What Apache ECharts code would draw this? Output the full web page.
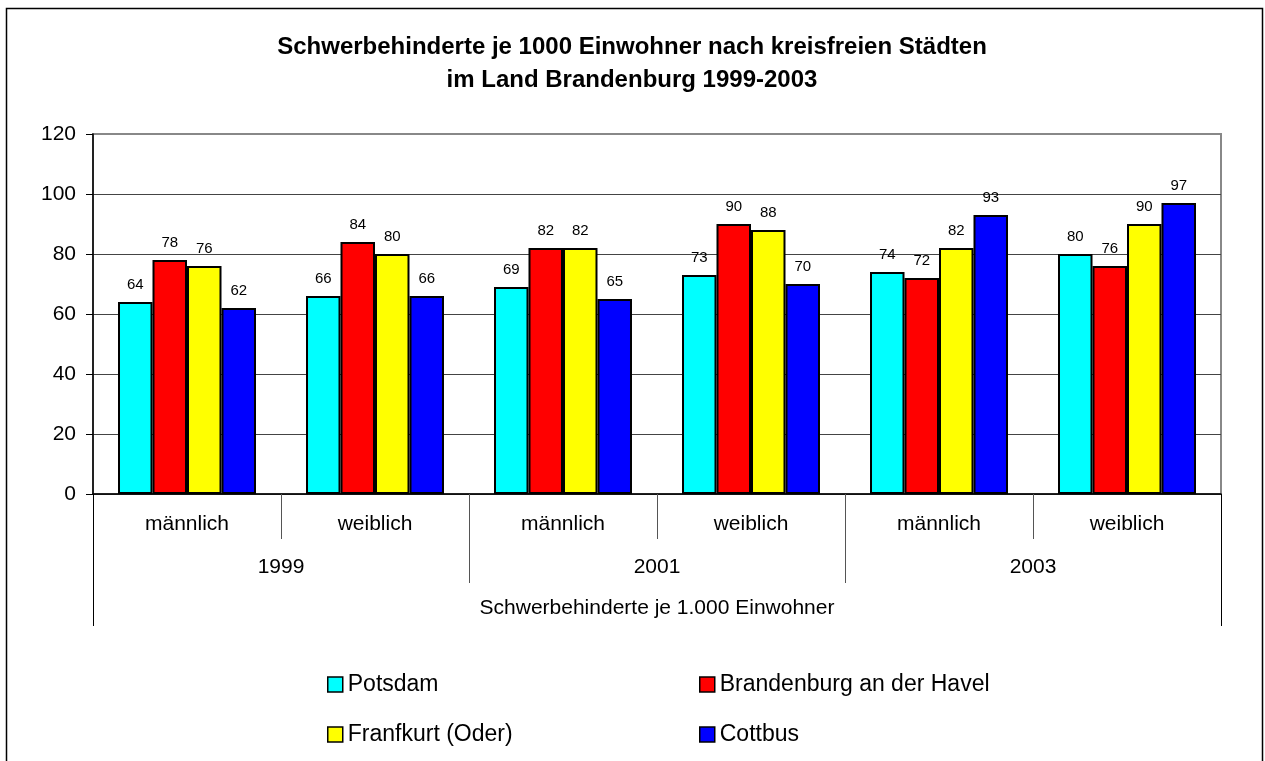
<!DOCTYPE html>
<html>
<head>
<meta charset="utf-8">
<title>Schwerbehinderte je 1000 Einwohner</title>
<script src="https://cdn.jsdelivr.net/npm/echarts@6/dist/echarts.min.js"></script>
<style>
  html, body { margin: 0; padding: 0; background: #fff; }
  #chart { width: 1265px; height: 761px; }
</style>
</head>
<body>
<div id="chart"></div>
<script>
// categories (three levels of the x axis)
const genders = ['männlich', 'weiblich', 'männlich', 'weiblich', 'männlich', 'weiblich'];
const years = ['1999', '2001', '2003'];
const groupLabel = ['Schwerbehinderte je 1.000 Einwohner'];

// values per city
const potsdam = [64, 66, 69, 73, 74, 80];
const brandenburg = [78, 84, 82, 90, 72, 76];
const frankfurt = [76, 80, 82, 88, 82, 90];
const cottbus = [62, 66, 65, 70, 93, 97];

const yTicks = { min: 0, max: 120, interval: 20 };

const font = "'Liberation Sans', Arial, sans-serif";

const chart = echarts.init(document.getElementById('chart'));

const makeBar = (name, color, data) => ({
  name: name,
  type: 'bar',
  xAxisIndex: 0,
  barGap: '0%',
  barCategoryGap: '26.6%',
  itemStyle: { color: color, borderColor: '#000', borderWidth: 2 },
  label: {
    show: true,
    position: 'top',
    distance: 10,
    color: '#000',
    fontSize: 15,
    fontFamily: font
  },
  emphasis: { disabled: true },
  data: data
});

const legendBase = {
  orient: 'vertical',
  top: 668,
  itemWidth: 15,
  itemHeight: 15,
  itemGap: 27,
  icon: 'rect',
  itemStyle: { borderColor: '#000', borderWidth: 1.5 },
  textStyle: { color: '#000', fontSize: 23, fontFamily: font },
  selectedMode: false
};

const option = {
  animation: false,
  backgroundColor: '#fff',
  textStyle: { fontFamily: font },
  title: {
    text: 'Schwerbehinderte je 1000 Einwohner nach kreisfreien Städten\nim Land Brandenburg 1999-2003',
    left: 627,
    textAlign: 'center',
    top: 26,
    textStyle: {
      fontSize: 24,
      fontWeight: 'bold',
      color: '#000',
      lineHeight: 33,
      fontFamily: font
    }
  },
  graphic: [{
    type: 'rect',
    silent: true,
    shape: { x: 6.5, y: 8.5, width: 1256, height: 800 },
    style: { fill: null, stroke: '#000', lineWidth: 1.5 }
  }],
  legend: [
    Object.assign({ left: 322, data: ['Potsdam', 'Franfkurt (Oder)'] }, legendBase),
    Object.assign({ left: 694, data: ['Brandenburg an der Havel', 'Cottbus'] }, legendBase)
  ],
  grid: {
    left: 93,
    right: 44,
    top: 134,
    bottom: 267,
    show: true,
    borderColor: '#888',
    borderWidth: 2,
    containLabel: false,
    outerBoundsMode: 'none'
  },
  xAxis: [
    {
      type: 'category',
      position: 'bottom',
      data: genders,
      axisLine: { show: true, lineStyle: { color: '#000', width: 1.5 } },
      axisTick: { show: true, interval: 0, length: 45, lineStyle: { color: '#555', width: 1 } },
      axisLabel: { interval: 0, margin: 20, fontSize: 21, color: '#000', fontFamily: font },
      splitLine: { show: false }
    },
    {
      type: 'category',
      position: 'bottom',
      data: years,
      axisLine: { show: false },
      axisTick: { show: true, interval: 0, length: 89, lineStyle: { color: '#555', width: 1 } },
      axisLabel: { interval: 0, margin: 63, fontSize: 21, color: '#000', fontFamily: font },
      splitLine: { show: false }
    },
    {
      type: 'category',
      position: 'bottom',
      data: groupLabel,
      axisLine: { show: false },
      axisTick: { show: true, interval: 0, length: 132, lineStyle: { color: '#000', width: 1 } },
      axisLabel: { interval: 0, margin: 104, fontSize: 21, color: '#000', fontFamily: font },
      splitLine: { show: false }
    }
  ],
  yAxis: {
    type: 'value',
    min: yTicks.min,
    max: yTicks.max,
    interval: yTicks.interval,
    axisLine: { show: true, lineStyle: { color: '#000', width: 1.5 } },
    axisTick: { show: true, length: 7, lineStyle: { color: '#000', width: 1 } },
    axisLabel: { margin: 17, fontSize: 21, color: '#000', fontFamily: font },
    splitLine: { show: true, showMaxLine: false, lineStyle: { color: '#444', width: 1 } }
  },
  series: [
    makeBar('Potsdam', '#00FFFF', potsdam),
    makeBar('Brandenburg an der Havel', '#FF0000', brandenburg),
    makeBar('Franfkurt (Oder)', '#FFFF00', frankfurt),
    makeBar('Cottbus', '#0000FF', cottbus)
  ]
};

chart.setOption(option);
</script>
</body>
</html>
